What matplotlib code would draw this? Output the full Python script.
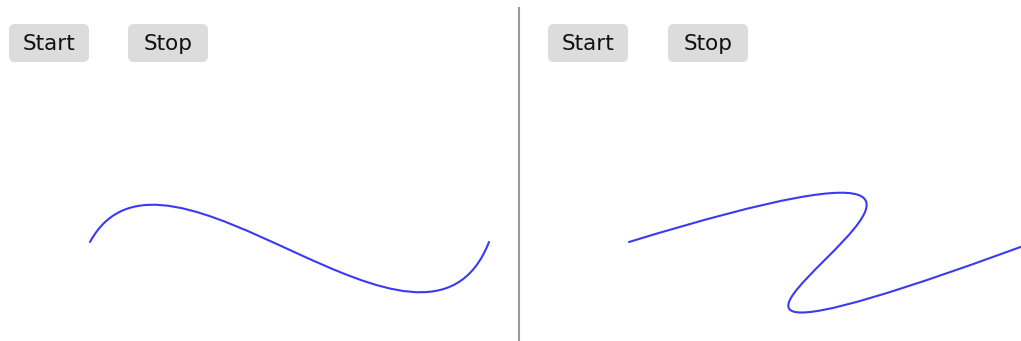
"""Two panels of Start/Stop buttons with a cubic bezier curve each."""

import matplotlib
import matplotlib.pyplot as plt
from matplotlib.patches import FancyBboxPatch, PathPatch
from matplotlib.path import Path

matplotlib.use("Agg")

W, H = 1021, 341

# bezier control points (pixel coords, y down)
left_curve = [(90, 242), (165, 104), (425, 406), (489, 242)]
right_curve = [(629, 242), (1240, 55), (400, 478), (1053, 235)]

button_labels = ["Start", "Stop", "Start", "Stop"]
button_left = [9, 128, 548, 668]

fig = plt.figure(figsize=(W / 100, H / 100), dpi=100)
ax = fig.add_axes([0, 0, 1, 1])
ax.set_xlim(0, W)
ax.set_ylim(H, 0)
ax.axis("off")

for pts in (left_curve, right_curve):
    path = Path(pts, [Path.MOVETO, Path.CURVE4, Path.CURVE4, Path.CURVE4])
    ax.add_patch(PathPatch(path, fill=False, edgecolor="#3a3af5", linewidth=1.5,
                           capstyle="round"))

for label, x0 in zip(button_labels, button_left):
    ax.add_patch(FancyBboxPatch((x0, 24), 80, 38,
                                boxstyle="round,pad=0,rounding_size=6",
                                facecolor="#dcdcdc", edgecolor="none"))
    ax.text(x0 + 40, 44, label, ha="center", va="center", fontsize=15.5,
            family="DejaVu Sans", color="#111")

ax.plot([519, 519], [8, H], color="#9a9a9a", linewidth=1.5)

fig.savefig("out.png", dpi=100)
